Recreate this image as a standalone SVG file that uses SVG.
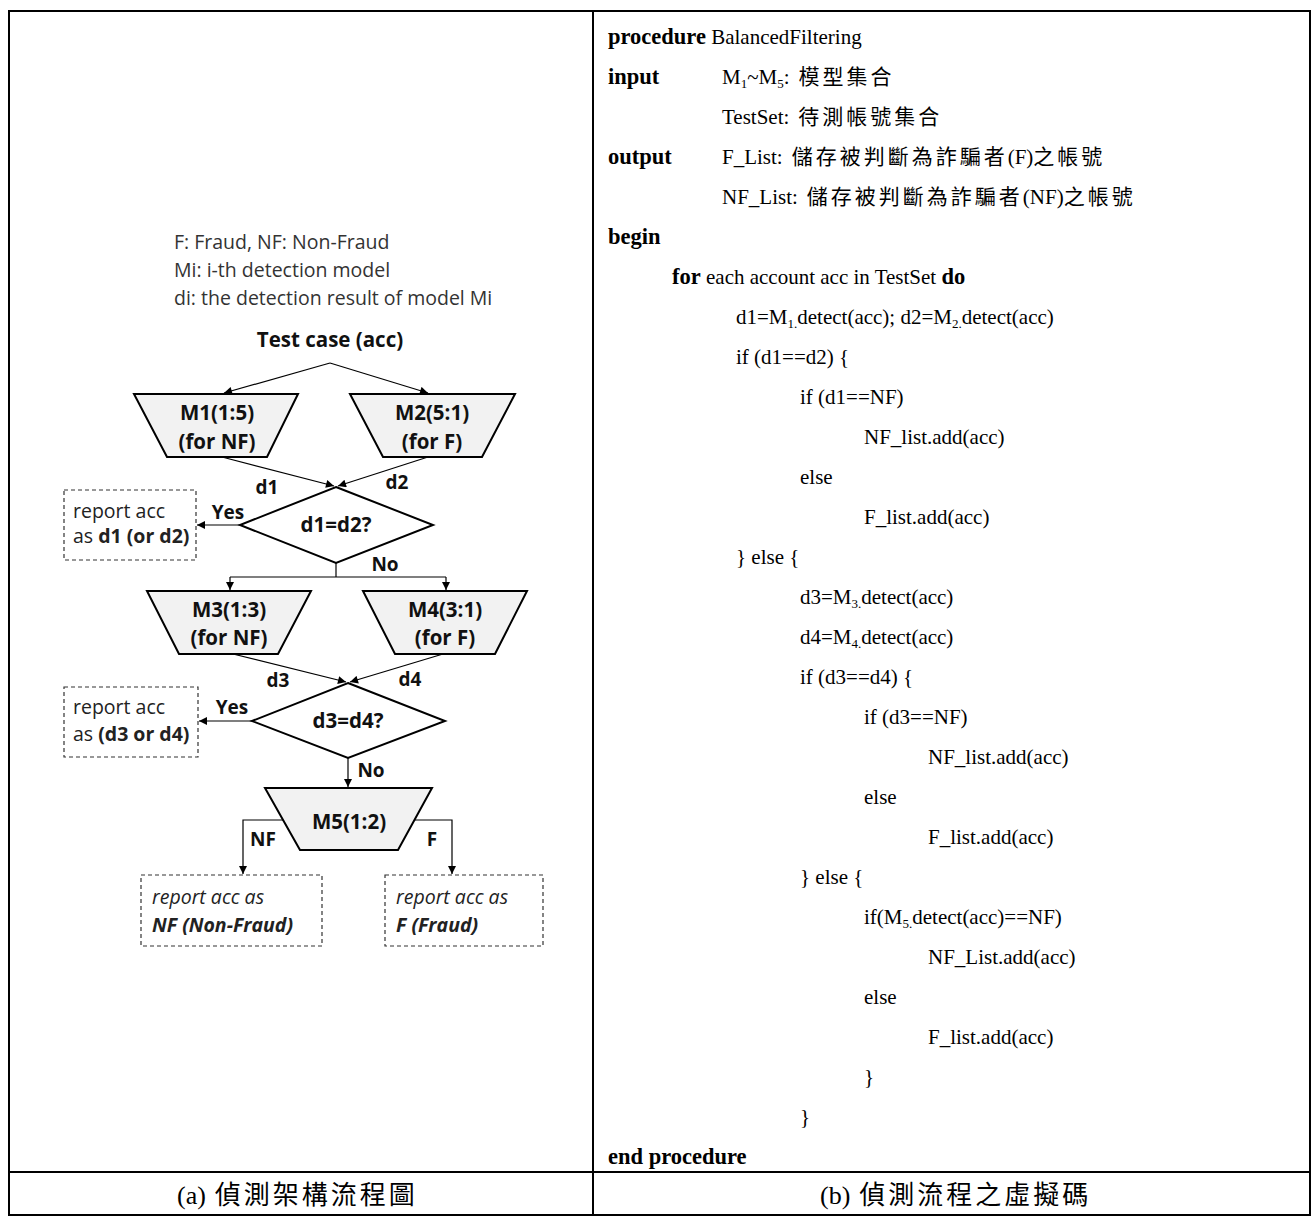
<svg xmlns="http://www.w3.org/2000/svg" width="1312" height="1216" viewBox="0 0 1312 1216">
<defs>
<marker id="ah" viewBox="0 0 10 10" refX="10" refY="5" markerWidth="9" markerHeight="8" markerUnits="userSpaceOnUse" orient="auto">
<path d="M0,0 L10,5 L0,10 z" fill="#000"/>
</marker>
<style>
.leg{font-family:"Open Sans",sans-serif;font-size:19.5px;fill:#333}
.b{font-weight:bold}
.kw{font-weight:bold;font-size:22.5px}
.lbl{font-family:"Open Sans",sans-serif;font-size:19px;font-weight:bold;fill:#111;text-anchor:middle}
.node{font-family:"Open Sans",sans-serif;font-size:20.5px;font-weight:bold;fill:#111;text-anchor:middle}
.box{font-family:"Open Sans",sans-serif;font-size:19.5px;fill:#222}
.shape{fill:#f2f2f2;stroke:#000;stroke-width:2}
.dia{fill:#fff;stroke:#000;stroke-width:2}
.dash{fill:#fff;stroke:#333;stroke-width:1.2;stroke-dasharray:4 3}
.con{fill:none;stroke:#000;stroke-width:1.2}
.code{font-family:"Liberation Serif","Noto Sans CJK TC",serif;font-size:21px;fill:#000}
.cj{letter-spacing:3px}
.cap{font-family:"Liberation Serif","Noto Sans CJK TC",serif;font-size:26px;fill:#000}
.grid{fill:none;stroke:#000;stroke-width:2}
</style>
</defs>
<rect width="1312" height="1216" fill="#fff"/>

<g id="table">
<rect class="grid" x="9" y="11" width="1301" height="1204"/>
<line class="grid" x1="593" y1="11" x2="593" y2="1215"/>
<line class="grid" x1="9" y1="1172" x2="1310" y2="1172"/>
</g>

<g id="legend">
<text class="leg" x="174" y="249">F: Fraud, NF: Non-Fraud</text>
<text class="leg" x="174" y="277">Mi: i-th detection model</text>
<text class="leg" x="174" y="305">di: the detection result of model Mi</text>
</g>

<g id="connectors">
<line class="con" x1="330" y1="363" x2="224" y2="393" marker-end="url(#ah)"/>
<line class="con" x1="330" y1="363" x2="428" y2="393" marker-end="url(#ah)"/>
<line class="con" x1="222" y1="457" x2="334" y2="486" marker-end="url(#ah)"/>
<line class="con" x1="428" y1="457" x2="338" y2="486" marker-end="url(#ah)"/>
<line class="con" x1="240" y1="525" x2="197" y2="525" marker-end="url(#ah)"/>
<polyline class="con" points="336,563 336,577"/>
<polyline class="con" points="230,577 446,577"/>
<line class="con" x1="230" y1="577" x2="230" y2="590" marker-end="url(#ah)"/>
<line class="con" x1="446" y1="577" x2="446" y2="590" marker-end="url(#ah)"/>
<line class="con" x1="233" y1="654" x2="346" y2="682" marker-end="url(#ah)"/>
<line class="con" x1="443" y1="654" x2="350" y2="682" marker-end="url(#ah)"/>
<line class="con" x1="252" y1="721" x2="199" y2="721" marker-end="url(#ah)"/>
<line class="con" x1="348" y1="758" x2="348" y2="787" marker-end="url(#ah)"/>
<polyline class="con" points="283,820 243,820 243,874" marker-end="url(#ah)"/>
<polyline class="con" points="414,820 452,820 452,874" marker-end="url(#ah)"/>
<text class="lbl" x="267" y="494">d1</text>
<text class="lbl" x="397" y="489">d2</text>
<text class="lbl" x="228" y="519">Yes</text>
<text class="lbl" x="385" y="571">No</text>
<text class="lbl" x="278" y="687">d3</text>
<text class="lbl" x="410" y="686">d4</text>
<text class="lbl" x="232" y="714">Yes</text>
<text class="lbl" x="371" y="777">No</text>
<text class="lbl" x="263" y="846">NF</text>
<text class="lbl" x="432" y="846">F</text>
</g>

<g id="start">
<text class="node" x="330" y="347">Test case (acc)</text>
</g>

<g id="m1">
<polygon class="shape" points="134,394 298,394 267,457 167,457"/>
<text class="node" x="217" y="420">M1(1:5)</text>
<text class="node" x="217" y="449">(for NF)</text>
</g>
<g id="m2">
<polygon class="shape" points="350,394 515,394 482,457 383,457"/>
<text class="node" x="432" y="420">M2(5:1)</text>
<text class="node" x="432" y="449">(for F)</text>
</g>

<g id="dec1">
<polygon class="dia" points="336,487 433,525 336,563 240,525"/>
<text class="node" x="336" y="532">d1=d2?</text>
</g>

<g id="rep1">
<rect class="dash" x="64" y="490" width="132" height="70"/>
<text class="box" x="73" y="518">report acc</text>
<text class="box" x="73" y="543">as <tspan class="b">d1 (or d2)</tspan></text>
</g>

<g id="m3">
<polygon class="shape" points="147,591 311,591 278,654 179,654"/>
<text class="node" x="229" y="617">M3(1:3)</text>
<text class="node" x="229" y="645">(for NF)</text>
</g>
<g id="m4">
<polygon class="shape" points="363,591 527,591 495,654 395,654"/>
<text class="node" x="445" y="617">M4(3:1)</text>
<text class="node" x="445" y="645">(for F)</text>
</g>

<g id="dec2">
<polygon class="dia" points="348,683 445,721 348,758 252,721"/>
<text class="node" x="348" y="728">d3=d4?</text>
</g>

<g id="rep2">
<rect class="dash" x="64" y="687" width="134" height="70"/>
<text class="box" x="73" y="714">report acc</text>
<text class="box" x="73" y="741">as <tspan class="b">(d3 or d4)</tspan></text>
</g>

<g id="m5">
<polygon class="shape" points="265,788 432,788 398,850 300,850"/>
<text class="node" x="349" y="829">M5(1:2)</text>
</g>

<g id="repNF">
<rect class="dash" x="141" y="875" width="181" height="71"/>
<text class="box" x="152" y="904" font-style="italic">report acc as</text>
<text class="box" x="152" y="932" font-style="italic" font-weight="bold">NF (Non-Fraud)</text>
</g>
<g id="repF">
<rect class="dash" x="385" y="875" width="158" height="71"/>
<text class="box" x="396" y="904" font-style="italic">report acc as</text>
<text class="box" x="396" y="932" font-style="italic" font-weight="bold">F (Fraud)</text>
</g>

<g id="pseudocode" class="code">
<text x="608" y="44"><tspan class="kw">procedure</tspan> BalancedFiltering</text>
<text x="608" y="84" class="kw">input</text>
<text x="722" y="84">M<tspan font-size="13" dy="4">1</tspan><tspan dy="-4">~M</tspan><tspan font-size="13" dy="4">5</tspan><tspan dy="-4">:</tspan><tspan class="cj" dx="9">模型集合</tspan></text>
<text x="722" y="124">TestSet:<tspan class="cj" dx="9">待測帳號集合</tspan></text>
<text x="608" y="164" class="kw">output</text>
<text x="722" y="164">F_List:<tspan class="cj" dx="9">儲存被判斷為詐騙者</tspan>(F)<tspan class="cj">之帳號</tspan></text>
<text x="722" y="204">NF_List:<tspan class="cj" dx="9">儲存被判斷為詐騙者</tspan>(NF)<tspan class="cj">之帳號</tspan></text>
<text x="608" y="244" class="kw">begin</text>
<text x="672" y="284"><tspan class="kw">for</tspan> each account acc in TestSet <tspan class="kw">do</tspan></text>
<text x="736" y="324">d1=M<tspan font-size="13" dy="4">1.</tspan><tspan dy="-4">detect(acc); d2=M</tspan><tspan font-size="13" dy="4">2.</tspan><tspan dy="-4">detect(acc)</tspan></text>
<text x="736" y="364">if (d1==d2) {</text>
<text x="800" y="404">if (d1==NF)</text>
<text x="864" y="444">NF_list.add(acc)</text>
<text x="800" y="484">else</text>
<text x="864" y="524">F_list.add(acc)</text>
<text x="736" y="564">} else {</text>
<text x="800" y="604">d3=M<tspan font-size="13" dy="4">3.</tspan><tspan dy="-4">detect(acc)</tspan></text>
<text x="800" y="644">d4=M<tspan font-size="13" dy="4">4.</tspan><tspan dy="-4">detect(acc)</tspan></text>
<text x="800" y="684">if (d3==d4) {</text>
<text x="864" y="724">if (d3==NF)</text>
<text x="928" y="764">NF_list.add(acc)</text>
<text x="864" y="804">else</text>
<text x="928" y="844">F_list.add(acc)</text>
<text x="800" y="884">} else {</text>
<text x="864" y="924">if(M<tspan font-size="13" dy="4">5.</tspan><tspan dy="-4">detect(acc)==NF)</tspan></text>
<text x="928" y="964">NF_List.add(acc)</text>
<text x="864" y="1004">else</text>
<text x="928" y="1044">F_list.add(acc)</text>
<text x="864" y="1084">}</text>
<text x="800" y="1124">}</text>
<text x="608" y="1164" class="kw">end procedure</text>
</g>

<g id="captions">
<text class="cap" x="177" y="1204">(a)<tspan class="cj" dx="9">偵測架構流程圖</tspan></text>
<text class="cap" x="820" y="1204">(b)<tspan class="cj" dx="9">偵測流程之虛擬碼</tspan></text>
</g>
</svg>
